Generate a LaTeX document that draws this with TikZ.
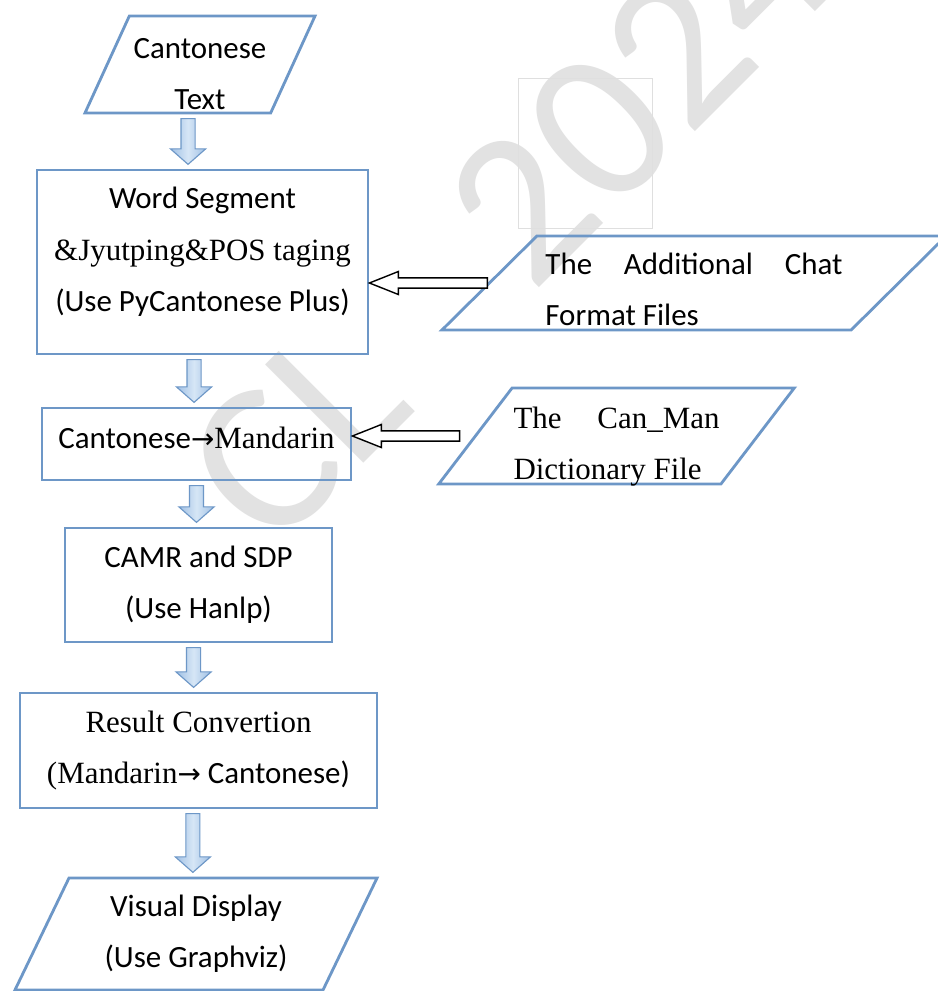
\documentclass[tikz,border=0pt]{standalone}
\usepackage{fontspec}
\setmainfont{Carlito}
\newfontfamily\serf{Liberation Serif}
\newfontfamily\arrowf[Scale=0.9]{DejaVu Sans}
\usetikzlibrary{shapes.geometric,calc}
\definecolor{flowblue}{RGB}{109,151,199}
\definecolor{arrowfill}{RGB}{160,192,228}
\definecolor{arrowlight}{RGB}{214,230,246}
\definecolor{wmgray}{RGB}{226,226,226}
\newcommand{\flowfont}{\fontsize{22pt}{36.6pt}\selectfont}
\newcommand{\toarr}{{\arrowf →}}

\begin{document}
\begin{tikzpicture}[x=0.025cm,y=-0.025cm,
  procbox/.style={draw=flowblue,line width=2pt,rectangle,inner sep=1pt,align=center,font=\flowfont},
  iobox/.style={draw=flowblue,line width=2pt,trapezium,trapezium stretches body,inner sep=1pt,align=center,font=\flowfont},
  fatdown/.style={draw=flowblue,line width=0.8pt,left color=arrowfill,right color=arrowfill,middle color=arrowlight,
    to path={let \p1=(\tikztostart),\p2=(\tikztotarget) in
      (\x1-5pt,\y1-3pt) -- (\x1+5pt,\y1-3pt) -- (\x1+5pt,\y2+14pt) -- (\x1+12.5pt,\y2+14pt)
      -- (\x1,\y2+3pt) -- (\x1-12.5pt,\y2+14pt) -- (\x1-5pt,\y2+14pt) -- cycle}},
  fatleft/.style={draw=black,line width=1pt,fill=white,
    to path={let \p1=(\tikztostart),\p2=(\tikztotarget) in
      (\x1,\y1+3.6pt) -- (\x2+20.6pt,\y1+3.6pt) -- (\x2+20.6pt,\y1+8.2pt) -- (\x2,\y1)
      -- (\x2+20.6pt,\y1-8.2pt) -- (\x2+20.6pt,\y1-3.6pt) -- (\x1,\y1-3.6pt) -- cycle}}]
  \useasboundingbox (0,0) rectangle (938,991);
  \clip (0,0) rectangle (938,991);
  \fill[white] (0,0) rectangle (938,991);

  % watermark
  \node[text=wmgray,font=\fontsize{154pt}{154pt}\selectfont,rotate=45,anchor=base west,inner sep=0] (wm) at (272,555)
    {CL\hspace{0.75em}2024};
  \draw[gray!25,line width=0.4pt] (518,78) rectangle (652,228);

  % main flow
  \node[iobox,trapezium left angle=64.6,trapezium right angle=115.4,minimum width=5.75cm,minimum height=2.425cm] (intxt) at (200,64.5)
    {\rule{0pt}{27.7pt}Cantonese\\Text};
  \node[procbox,minimum width=8.275cm,minimum height=4.6cm] (wordseg) at (202.5,262)
    {Word Segment\\{\serf \&Jyutping\&POS taging}\\(Use PyCantonese Plus)\rule[-17.6pt]{0pt}{17.6pt}};
  \node[procbox,minimum width=7.725cm,minimum height=1.8cm] (cantoman) at (196.5,444)
    {Cantonese\toarr{\serf Mandarin}\rule[-9.5pt]{0pt}{9.5pt}};
  \node[procbox,minimum width=6.675cm,minimum height=2.85cm] (camr) at (198.5,585)
    {CAMR and SDP\\(Use Hanlp)};
  \node[procbox,minimum width=8.925cm,minimum height=2.875cm] (result) at (198.5,750.5)
    {{\serf Result Convertion}\\{\serf (Mandarin}\toarr{} Cantonese)};
  \node[iobox,trapezium left angle=56.2,trapezium right angle=123.8,minimum width=9.05cm,minimum height=2.8cm] (visual) at (196,934)
    {Visual Display\\(Use Graphviz)};

  % side inputs
  \node[iobox,align=left,trapezium left angle=42.9,trapezium right angle=137.1,minimum width=12.6cm,minimum height=2.35cm] (chatfile) at (694,283)
    {\rule{0pt}{24pt}\makebox[211.3pt][s]{The Additional Chat}\\Format Files};
  \node[iobox,align=left,font=\flowfont\serf,trapezium left angle=50.9,trapezium right angle=129.1,minimum width=8.775cm,minimum height=2.4cm] (dictfile) at (616.5,436)
    {\rule{0pt}{25.6pt}\makebox[146.5pt][s]{The Can\_Man}\\\smash{Dictionary File}};

  \draw[fatdown] ([xshift=-8.5pt]intxt.south) to (wordseg.north);
  \draw[fatdown] ([xshift=-6pt]wordseg.south) to (cantoman.north);
  \draw[fatdown] (cantoman.south) to (camr.north);
  \draw[fatdown] ([xshift=-3.5pt]camr.south) to (result.north);
  \draw[fatdown] ([xshift=-4pt]result.south) to (visual.north);
  \draw[fatleft] (chatfile.west) to (wordseg.east);
  \draw[fatleft] ([xshift=-10pt]dictfile.west) to (cantoman.east);
\end{tikzpicture}
\end{document}
